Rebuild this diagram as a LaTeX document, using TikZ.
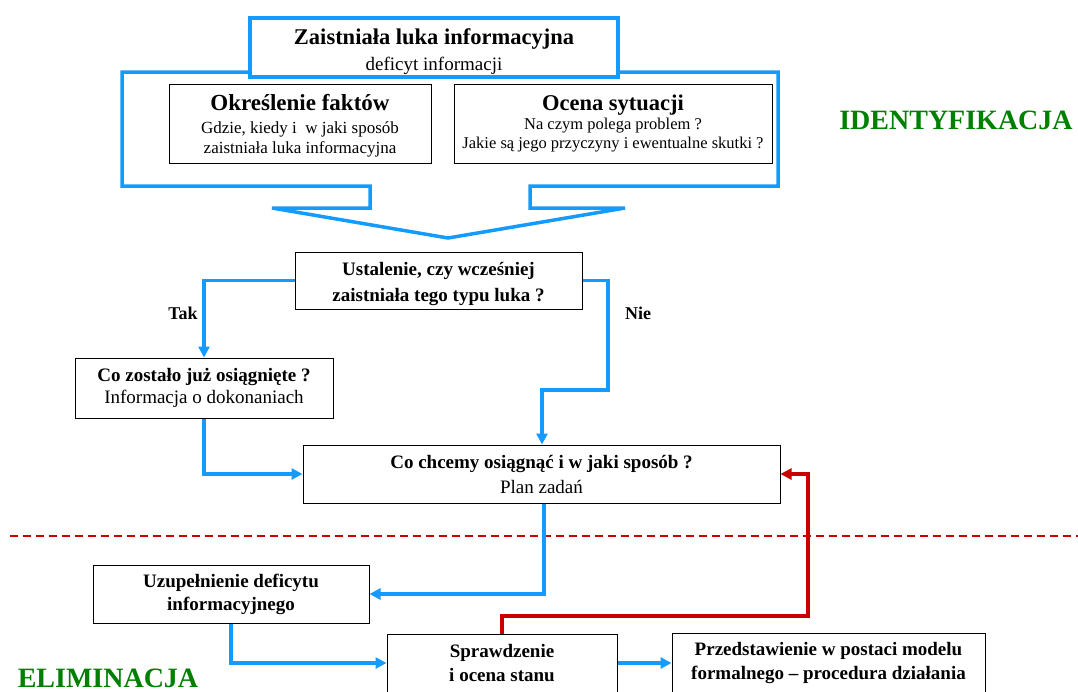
\documentclass[tikz,border=0pt]{standalone}
\usepackage{fontspec}
\setmainfont{Liberation Serif}
\usetikzlibrary{arrows.meta,calc}
\definecolor{lblue}{RGB}{20,155,255}
\definecolor{dred}{RGB}{200,0,0}
\definecolor{dgreen}{RGB}{0,128,0}
\newcommand\fs[2]{\fontsize{#1}{#2}\selectfont}
\newcommand\strt[1]{\rule{0pt}{#1}}
\tikzset{
  bbox/.style={draw=black,line width=1pt,fill=white,align=center,inner sep=0pt},
  topbox/.style={draw=lblue,line width=3.5pt,fill=white,align=center,inner sep=0pt},
  barrow/.style={draw=lblue,line width=3.5pt,-{Triangle[length=11pt,width=11pt]}},
  rarrow/.style={draw=dred,line width=3.5pt,-{Triangle[length=11pt,width=11pt]}},
  lbl/.style={font=\bfseries\fs{18}{20}},
  bigtxt/.style={font=\bfseries\fs{28}{30},text=dgreen,inner sep=0pt},
}
\begin{document}
\begin{tikzpicture}[x=1pt,y=-1pt]
\useasboundingbox (0,0) rectangle (1078,691);
% big frame with arrow
\draw[lblue,line width=3.5pt,line join=miter]
  (122,72) -- (778,72) -- (778,186) -- (530,186) -- (530,208) -- (625,208)
  -- (448,238) -- (272,208) -- (370,208) -- (370,186) -- (122,186) -- cycle;
\node[topbox,minimum width=368,minimum height=59,font=\fs{19}{24}] (top) at (434,47.5)
  {\strt{24pt}\bfseries\fs{22.5}{25}Zaistniała luka informacyjna\\[2pt]
   deficyt informacji};
\node[bbox,minimum width=262,minimum height=79,font=\fs{17}{19.5}] (fakty) at (300,123.5)
  {\strt{20pt}\bfseries\fs{23}{24}Określenie faktów\\[4pt]
   Gdzie, kiedy i\ \ w jaki sposób\\ zaistniała luka informacyjna};
\node[bbox,minimum width=318,minimum height=79,font=\fs{16.5}{19}] (ocena) at (613,123.5)
  {\bfseries\fs{22.5}{22}Ocena sytuacji\\
   Na czym polega problem ?\\ Jakie są jego przyczyny i ewentualne skutki ?};
\node[bigtxt] (ident) at (956,120) {IDENTYFIKACJA};

\node[bbox,minimum width=287,minimum height=57,font=\bfseries\fs{19}{25}] (ustal) at (438.5,280.5)
  {\strt{20pt}Ustalenie, czy wcześniej\\[1pt] zaistniała tego typu luka ?};
\node[bbox,minimum width=258,minimum height=60,font=\fs{19}{22}] (cozost) at (204,388)
  {\bfseries Co zostało już osiągnięte ?\\ Informacja o dokonaniach};
\node[bbox,minimum width=477,minimum height=58,font=\fs{19}{25}] (chcemy) at (541.5,474)
  {\bfseries Co chcemy osiągnąć i w jaki sposób ?\\ Plan zadań};
\node[bbox,minimum width=276,minimum height=58,font=\bfseries\fs{19}{23}] (uzup) at (231,594)
  {Uzupełnienie deficytu\\ informacyjnego};
\node[bbox,minimum width=230,minimum height=58,font=\bfseries\fs{19}{24}] (spraw) at (502,663)
  {Sprawdzenie\\ i ocena stanu};
\node[bbox,minimum width=313,minimum height=59,font=\bfseries\fs{19}{24}] (przed) at (828.5,663)
  {Przedstawienie w postaci modelu\\ formalnego -- procedura działania};
\node[bigtxt,anchor=base] (elim) at (108,687) {ELIMINACJA};

\node[lbl] (tak) at (183,313) {Tak};
\node[lbl] (nie) at (638,313) {Nie};

% dashed separator
\draw[dred,line width=2.5pt,dash pattern=on 8pt off 5pt] (10,536) -- (1078,536);

% connectors
\draw[barrow] (ustal.west) -| (cozost.north);
\coordinate (n1) at (608,390);
\coordinate (n2) at (542,390);
\draw[barrow] (ustal.east) -| (n1) -- (n2) -- (chcemy.north -| n2);
\draw[barrow] (cozost.south) |- (chcemy.west);
\coordinate (c3) at (544,594);
\draw[barrow] (chcemy.south -| c3) |- (uzup.east);
\draw[barrow] (uzup.south) |- (spraw.west);
\draw[barrow] (spraw.east) -- (przed.west);
\coordinate (r1) at (502,616);
\coordinate (r2) at (808,616);
\draw[rarrow] (spraw.north -| r1) -- (r1) -- (r2) |- (chcemy.east);
\end{tikzpicture}
\end{document}
